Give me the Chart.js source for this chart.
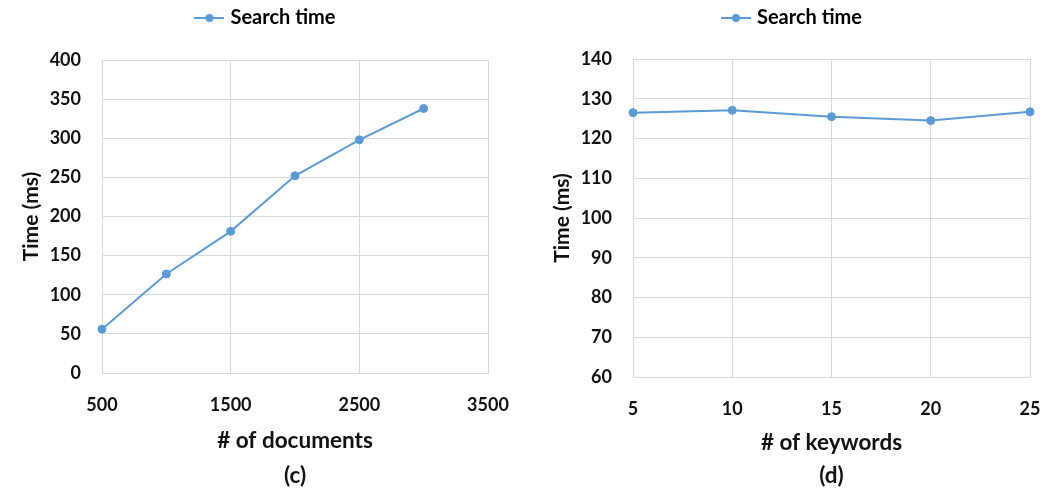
<!DOCTYPE html>
<html>
<head>
<meta charset="utf-8">
<script src="https://cdn.jsdelivr.net/npm/chart.js@4.4.0/dist/chart.umd.min.js"></script>
<style>
  body { margin: 0; background: #fff; }
  .wrap { display: flex; width: 1050px; height: 490px; }
  canvas { display: block; }
</style>
</head>
<body>
<div class="wrap">
  <canvas id="chartC" width="525" height="490"></canvas>
  <canvas id="chartD" width="525" height="490"></canvas>
</div>
<script>
// (c) search time vs number of documents
const documents = [500, 1000, 1500, 2000, 2500, 3000];
const searchTimeDocs = [56, 126.5, 181, 252, 298, 338];
const docTicks = [500, 1500, 2500, 3500];
const docTimeTicks = [0, 50, 100, 150, 200, 250, 300, 350, 400];

// (d) search time vs number of keywords
const keywords = [5, 10, 15, 20, 25];
const searchTimeKeywords = [126.5, 127.1, 125.5, 124.5, 126.7];
const keywordTicks = [5, 10, 15, 20, 25];
const keywordTimeTicks = [60, 70, 80, 90, 100, 110, 120, 130, 140];

const seriesLabel = 'Search time';
const blue = '#5B9BD5';
const gridGray = '#d9d9d9';

Chart.defaults.font.family = 'Lato, "Open Sans", sans-serif';
Chart.defaults.font.weight = 'bold';
Chart.defaults.color = '#111';

// legend marker: line with a dot in the middle
function legendMarker() {
    const c = document.createElement('canvas');
    c.width = 30;
    c.height = 10;
    const g = c.getContext('2d');
    g.strokeStyle = blue;
    g.lineWidth = 2;
    g.beginPath();
    g.moveTo(0, 5);
    g.lineTo(30, 5);
    g.stroke();
    g.fillStyle = blue;
    g.beginPath();
    g.arc(15, 5, 4, 0, Math.PI * 2);
    g.fill();
    return c;
}
const marker = legendMarker();

// legend: fixed height (sets plot top) and a small shift
function legendTweak(height, dx, dy) {
    return {
        id: 'legendTweak',
        afterInit(chart) {
            const legend = chart.legend;
            const fit = legend.fit;
            legend.fit = function() {
                fit.call(this);
                this.height = height;
            };
            const draw = legend.draw;
            legend.draw = function() {
                this.ctx.save();
                this.ctx.translate(dx, dy);
                draw.call(this);
                this.ctx.restore();
            };
        }
    };
}

function makeChart(id, xs, ys, xTicks, yTicks, cfg) {
    const ctx = document.getElementById(id).getContext('2d');
    return new Chart(ctx, {
        type: 'scatter',
        data: {
            datasets: [{
                label: seriesLabel,
                data: xs.map((x, i) => ({x: x, y: ys[i]})),
                showLine: true,
                borderColor: blue,
                backgroundColor: blue,
                borderWidth: 2,
                pointRadius: 4,
                pointBorderWidth: 1,
                pointStyle: 'circle',
                clip: false
            }]
        },
        plugins: [legendTweak(cfg.legendHeight, cfg.legendDx, 8)],
        options: {
            responsive: false,
            animation: false,
            devicePixelRatio: 1,
            layout: {
                padding: {top: 0, left: cfg.padLeft, right: cfg.padRight, bottom: 0}
            },
            plugins: {
                tooltip: {enabled: false},
                legend: {
                    position: 'top',
                    labels: {
                        usePointStyle: true,
                        pointStyle: marker,
                        pointStyleWidth: 22,
                        padding: 0,
                        color: '#111',
                        font: {size: 20, weight: 'bold'},
                        generateLabels: chart => [{
                            text: seriesLabel,
                            pointStyle: marker,
                            fillStyle: blue,
                            strokeStyle: blue,
                            lineWidth: 0,
                            datasetIndex: 0
                        }]
                    }
                }
            },
            scales: {
                x: {
                    type: 'linear',
                    min: xTicks[0],
                    max: xTicks[xTicks.length - 1],
                    afterBuildTicks: scale => { scale.ticks = xTicks.map(v => ({value: v})); },
                    afterFit: scale => { scale.height = cfg.xHeight; },
                    grid: {color: gridGray, drawTicks: true, tickLength: 21, tickColor: 'rgba(0,0,0,0)'},
                    border: {color: gridGray},
                    ticks: {padding: 0, font: {size: 18}, maxRotation: 0, callback: v => String(v)},
                    title: {
                        display: true,
                        text: [cfg.xTitle, cfg.tag],
                        font: {size: 22.5, lineHeight: cfg.titleLine},
                        padding: {top: 0, bottom: -3}
                    }
                },
                y: {
                    min: yTicks[0],
                    max: yTicks[yTicks.length - 1],
                    afterBuildTicks: scale => { scale.ticks = yTicks.map(v => ({value: v})); },
                    afterFit: scale => { scale.width = cfg.yWidth; },
                    grid: {color: gridGray, drawTicks: false},
                    border: {color: gridGray},
                    ticks: {padding: 21, font: {size: 18}, callback: v => String(v)},
                    title: {
                        display: true,
                        text: 'Time (ms)',
                        font: {size: 21},
                        padding: {top: cfg.yTitlePad, bottom: 0}
                    }
                }
            }
        }
    });
}

makeChart('chartC', documents, searchTimeDocs, docTicks, docTimeTicks, {
    padLeft: 0, padRight: 37, yWidth: 102, xHeight: 117, legendHeight: 60, legendDx: 23,
    yTitlePad: 19, titleLine: 1.556, xTitle: '# of documents', tag: '(c)'
});

makeChart('chartD', keywords, searchTimeKeywords, keywordTicks, keywordTimeTicks, {
    padLeft: 24, padRight: 20, yWidth: 84, xHeight: 113, legendHeight: 59, legendDx: 4,
    yTitlePad: 1, titleLine: 1.5, xTitle: '# of keywords', tag: '(d)'
});
</script>
</body>
</html>
